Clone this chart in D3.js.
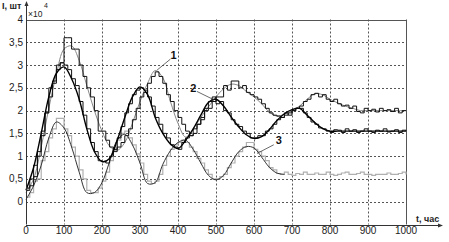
<!DOCTYPE html>
<html><head><meta charset="utf-8">
<script src="https://cdn.jsdelivr.net/npm/d3@7"></script>
<style>
html,body{margin:0;padding:0;background:#fff;}
svg{display:block;font-family:"Liberation Sans",Arial,sans-serif;}
</style></head>
<body><svg id="c" width="449" height="242"></svg>
<script>
// ---- data ----
const xTicks = [0,100,200,300,400,500,600,700,800,900,1000];
const yTicks = [0,0.5,1,1.5,2,2.5,3,3.5,4];
const xLabel = "t, час";
const yLabel = "I, шт";
const yScaleLabel = "×10";
const yScaleExp = "4";

// smooth model curves, t = 0,20,...
const smoothT = d3.range(0, 1001, 20);
const smooth1 = [0.2,0.5,1.2,2.05,2.8,3.35,3.42,3.1,2.55,2.0,1.55,1.22,1.13,1.3,1.72,2.2,2.6,2.88,2.72,2.2,1.72,1.42,1.6,1.85,2.08,2.3,2.48,2.58,2.55,2.42,2.3,2.15,1.97,1.88,1.92,2.0,2.1,2.25,2.37,2.35,2.25,2.17,2.1,2.05,2.0,2.0,2.0,2.0,2.0,2.0,2.0];
const smooth2 = [0.25,0.75,1.5,2.3,2.82,2.96,2.7,2.25,1.6,1.1,0.88,0.95,1.35,1.85,2.3,2.52,2.35,1.85,1.5,1.27,1.17,1.35,1.6,1.9,2.18,2.25,2.1,1.86,1.64,1.47,1.39,1.43,1.58,1.78,1.93,2.02,2.05,1.9,1.74,1.61,1.55,1.55,1.55,1.55,1.55,1.55,1.55,1.55,1.55,1.55,1.55];
const smooth3 = [0.05,0.35,0.8,1.4,1.75,1.62,1.2,0.65,0.2,0.2,0.42,0.88,1.35,1.48,1.25,0.85,0.4,0.42,0.82,1.12,1.3,1.35,1.15,0.85,0.58,0.48,0.58,0.85,1.1,1.21,1.18,0.98,0.76,0.63,0.6];

// stepped simulation curves, t = 0,10,...
const stepT = d3.range(0, 1001, 10);
const step1 = [0.3,0.5,0.55,1.0,1.45,1.95,2.3,2.65,3.0,3.05,3.6,3.6,3.35,3.35,3.0,2.75,2.5,2.3,2.0,1.55,1.55,1.35,1.2,1.1,1.2,1.3,1.45,1.6,1.8,2.05,2.3,2.4,2.6,2.75,2.85,2.75,2.6,2.35,2.2,2.0,1.85,1.7,1.55,1.45,1.5,1.7,1.8,2.0,2.05,2.2,2.3,2.3,2.55,2.45,2.65,2.65,2.5,2.55,2.4,2.35,2.3,2.25,2.15,2.05,1.95,1.9,1.88,1.85,1.95,1.9,2.0,2.05,2.1,2.2,2.25,2.35,2.38,2.3,2.35,2.25,2.2,2.25,2.15,2.1,2.12,2.05,2.1,1.98,1.95,2.05,2.0,2.03,1.97,2.05,2.0,2.02,1.98,2.05,1.95,2.0,2.0];
const step2 = [0.25,0.35,0.8,1.1,1.55,1.95,2.5,2.6,2.9,3.05,3.0,2.9,2.7,2.55,2.2,1.9,1.6,1.3,1.1,0.9,0.88,0.85,1.0,1.15,1.4,1.65,1.95,2.15,2.35,2.45,2.5,2.45,2.3,2.1,1.85,1.7,1.5,1.4,1.25,1.2,1.15,1.3,1.4,1.45,1.6,1.7,1.85,2.05,2.2,2.3,2.15,2.2,2.0,1.95,1.8,1.7,1.65,1.55,1.5,1.4,1.4,1.45,1.45,1.55,1.6,1.7,1.8,1.85,1.9,1.95,2.0,2.05,2.05,1.95,1.85,1.75,1.7,1.62,1.6,1.55,1.52,1.58,1.57,1.52,1.6,1.55,1.58,1.52,1.55,1.6,1.55,1.52,1.57,1.55,1.6,1.53,1.55,1.58,1.52,1.57,1.55];
const step3 = [0.1,0.2,0.45,0.5,0.9,1.1,1.4,1.6,1.83,1.83,1.6,1.45,1.2,1.0,0.7,0.5,0.25,0.2,0.2,0.3,0.45,0.65,0.9,1.15,1.35,1.5,1.55,1.4,1.25,1.05,0.85,0.6,0.45,0.4,0.45,0.6,0.8,1.0,1.15,1.25,1.3,1.35,1.3,1.2,1.1,0.95,0.85,0.7,0.6,0.5,0.5,0.55,0.6,0.75,0.85,1.0,1.1,1.2,1.3,1.3,1.15,1.1,1.0,0.9,0.75,0.7,0.62,0.6,0.65,0.6,0.58,0.62,0.6,0.65,0.6,0.6,0.63,0.6,0.6,0.65,0.6,0.58,0.6,0.63,0.65,0.6,0.6,0.62,0.65,0.6,0.6,0.58,0.6,0.6,0.6,0.63,0.6,0.6,0.62,0.65,0.6];

// curve labels: text, label position (t,v), pointer from (t,v) to (t,v)
const curveLabels = ["1","2","3"];
const labelAt = [[388,3.22],[440,2.49],[665,1.36]];
const pointerFrom = [[380,3.13],[450,2.42],[652,1.25]];
const pointerTo = [[345,2.89],[494,2.24],[608,1.06]];

// ---- drawing ----
const svg = d3.select("#c");
const x = d3.scaleLinear().domain([0,1000]).range([26,406]);
const y = d3.scaleLinear().domain([-0.5,4]).range([224.5,19.5]);
const fmt = d => String(d).replace(".", ",");

// grid
const g = svg.append("g");
g.selectAll("line.v").data(xTicks.filter(d => d>0 && d<1000)).join("line")
  .attr("x1", d => Math.round(x(d))+0.5).attr("x2", d => Math.round(x(d))+0.5)
  .attr("y1", y(4)).attr("y2", y(-0.5))
  .attr("stroke","#555").attr("stroke-width",1).attr("stroke-dasharray","2,2");
g.selectAll("line.h").data(yTicks.filter(d => d<4)).join("line")
  .attr("x1", x(0)).attr("x2", x(1000))
  .attr("y1", d => Math.round(y(d))+0.5).attr("y2", d => Math.round(y(d))+0.5)
  .attr("stroke","#555").attr("stroke-width",1).attr("stroke-dasharray","2,2");

// frame top & right
svg.append("line").attr("x1",x(0)).attr("x2",x(1000)+0.5).attr("y1",Math.round(y(4))+0.5).attr("y2",Math.round(y(4))+0.5).attr("stroke","#555");
svg.append("line").attr("x1",Math.round(x(1000))+0.5).attr("x2",Math.round(x(1000))+0.5).attr("y1",y(4)).attr("y2",y(-0.5)).attr("stroke","#555");

// series
const lineS = d3.line().x((d,i)=>x(smoothT[i])).y(d=>y(d)).curve(d3.curveCatmullRom.alpha(0.5));
const lineT = d3.line().x((d,i)=>x(stepT[i])).y(d=>y(d)).curve(d3.curveStepAfter);
const lines = svg.append("g").attr("fill","none");
lines.append("path").attr("d", lineT(step3)).attr("stroke","#b0b0b0").attr("stroke-width",1.2);
lines.append("path").attr("d", lineS(smooth3)).attr("stroke","#333").attr("stroke-width",1);
lines.append("path").attr("d", lineS(smooth1)).attr("stroke","#888").attr("stroke-width",1);
lines.append("path").attr("d", lineT(step1)).attr("stroke","#111").attr("stroke-width",1);
lines.append("path").attr("d", lineT(step2)).attr("stroke","#111").attr("stroke-width",1);
lines.append("path").attr("d", lineS(smooth2)).attr("stroke","#000").attr("stroke-width",1.4);

// axes
const ax = svg.append("g").attr("stroke","#333").attr("fill","none");
ax.append("line").attr("x1",x(0)+0.5).attr("x2",x(0)+0.5).attr("y1",y(-0.5)).attr("y2",3);
ax.append("line").attr("x1",x(0)).attr("x2",441).attr("y1",Math.round(y(-0.5))+0.5).attr("y2",Math.round(y(-0.5))+0.5);
svg.append("path").attr("d",`M${x(0)+0.5},1 L${x(0)-1.5},6 L${x(0)+2.5},6 Z`).attr("fill","#333");
const ya = Math.round(y(-0.5))+0.5;
svg.append("path").attr("d",`M443,${ya} L438,${ya-2} L438,${ya+2} Z`).attr("fill","#333");

// tick labels
svg.append("g").selectAll("text").data(xTicks).join("text")
  .attr("x", d=>x(d)).attr("y", 234).attr("text-anchor","middle")
  .attr("font-size",10).attr("fill","#222").text(d=>d);
svg.append("g").selectAll("text").data(yTicks).join("text")
  .attr("x", 23).attr("y", d=>y(d)+3.5).attr("text-anchor","end")
  .attr("font-size",10).attr("fill","#222").text(fmt);

// axis titles
svg.append("text").attr("x",2).attr("y",9).attr("font-size",9).attr("font-weight","bold").attr("fill","#222").text(yLabel);
svg.append("text").attr("x",28).attr("y",17).attr("font-size",8.5).attr("fill","#222").text(yScaleLabel);
svg.append("text").attr("x",44).attr("y",8).attr("font-size",7).attr("fill","#222").text(yScaleExp);
svg.append("text").attr("x",416).attr("y",222).attr("font-size",9).attr("font-weight","bold").attr("fill","#222").text(xLabel);

// curve labels
const lab = svg.append("g");
curveLabels.forEach((t,i)=>{
  lab.append("line").attr("x1",x(pointerFrom[i][0])).attr("y1",y(pointerFrom[i][1]))
    .attr("x2",x(pointerTo[i][0])).attr("y2",y(pointerTo[i][1])).attr("stroke","#444").attr("stroke-width",0.8);
  lab.append("text").attr("x",x(labelAt[i][0])).attr("y",y(labelAt[i][1])+4).attr("text-anchor","middle")
    .attr("font-size",11).attr("font-weight","bold").attr("fill","#111").text(t);
});
</script></body></html>
